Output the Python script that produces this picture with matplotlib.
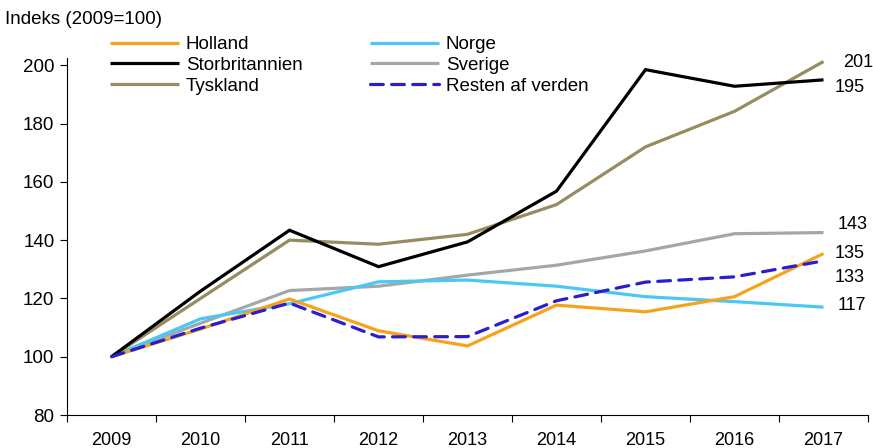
import matplotlib
matplotlib.use("Agg")
import matplotlib.pyplot as plt

years = ["2009", "2010", "2011", "2012", "2013", "2014", "2015", "2016", "2017"]
holland = [100, 109.5, 119.8, 108.9, 103.7, 117.7, 115.4, 120.6, 135.4]
norge = [100, 113.0, 118.2, 125.7, 126.3, 124.2, 120.6, 118.9, 117.0]
storbritannien = [100, 122.5, 143.4, 130.9, 139.4, 156.8, 198.5, 192.8, 195.0]
sverige = [100, 111.5, 122.7, 124.2, 128.0, 131.4, 136.3, 142.2, 142.6]
tyskland = [100, 120.0, 140.0, 138.6, 142.0, 152.2, 172.0, 184.2, 201.3]
resten = [100, 109.8, 118.4, 106.8, 106.9, 119.2, 125.6, 127.4, 132.9]
end_labels = ["201", "195", "143", "135", "133", "117"]

plt.rcParams["font.family"] = ["Liberation Sans", "DejaVu Sans"]

fig = plt.figure(figsize=(8.73, 4.48), dpi=100)
ax = fig.add_axes([67/873, 1-415/448, (868-67)/873, (415-58)/448])

x = list(range(len(years)))
lw = 2.3
handles = {}
order_draw = [(sverige, "#A2A8A9", "Sverige"), (norge, "#4CC7F4", "Norge"),
              (holland, "#F7A21B", "Holland"), (tyskland, "#958C5F", "Tyskland"),
              (storbritannien, "#000000", "Storbritannien")]
for vals, col, nm in order_draw:
    h, = ax.plot(x, vals, color=col, lw=lw, solid_capstyle="butt", solid_joinstyle="miter")
    handles[nm] = h
h, = ax.plot(x, resten, color="#2A1FCF", lw=lw, ls=(0, (4, 2.6)), dash_capstyle="round")
handles["Resten af verden"] = h

ax.set_xlim(-0.5, 8.5)
ax.set_ylim(80, 202.5)
ax.set_yticks([80, 100, 120, 140, 160, 180, 200])
ax.set_xticks([i - 0.5 for i in range(10)])
ax.set_xticklabels([])
ax.set_xticks(x, minor=True)
ax.set_xticklabels(years, minor=True)
ax.tick_params(axis="x", which="minor", length=0, pad=12, labelsize=13)
ax.tick_params(axis="x", which="major", length=5, width=0.8, direction="out")
ax.tick_params(axis="y", length=5, width=0.8, labelsize=13.5, pad=4)
for s in ["top", "right"]:
    ax.spines[s].set_visible(False)
for s in ["left", "bottom"]:
    ax.spines[s].set_linewidth(0.8)

# End labels
label_ypix = [62, 88, 224, 254, 277, 305]
label_xpix = [843, 835, 838, 835, 835, 838]
for txt, yp, xp in zip(end_labels, label_ypix, label_xpix):
    fig.text(xp/873, 1-yp/448, txt, fontsize=13, va="center", ha="left")

fig.text(5/873, 1-20/448, "Indeks (2009=100)", fontsize=13.5, va="center", ha="left")

col1 = ["Holland", "Storbritannien", "Tyskland"]
col2 = ["Norge", "Sverige", "Resten af verden"]
common = dict(loc="upper left", frameon=False, fontsize=13.5, handlelength=3.7,
              handletextpad=0.35, labelspacing=0.2, borderpad=0, borderaxespad=0)
leg1 = fig.legend([handles[n] for n in col1], col1, bbox_to_anchor=(110/873, 1-36/448), **common)
leg2 = fig.legend([handles[n] for n in col2], col2, bbox_to_anchor=(370/873, 1-36/448), **common)

fig.savefig("out.png", dpi=100)
